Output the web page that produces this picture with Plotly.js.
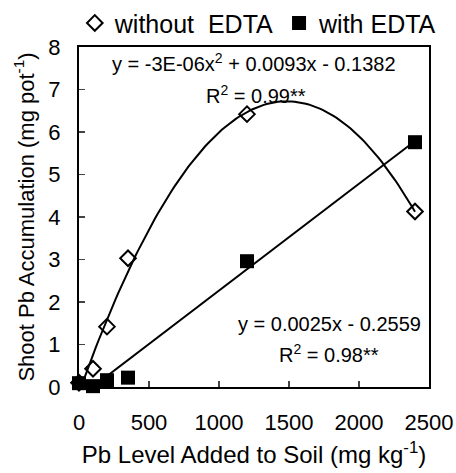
<!DOCTYPE html>
<html><head><meta charset="utf-8">
<script src="https://cdn.plot.ly/plotly-3.0.1.min.js"></script>
<style>body{margin:0;background:#fff}#c{width:456px;height:473px}</style>
</head><body><div id="c"></div>
<script>
const pbLevels = [0, 100, 200, 350, 1200, 2400];
const withoutEDTA = [0.1, 0.43, 1.42, 3.03, 6.42, 4.13];
const withEDTA = [0.09, 0.02, 0.16, 0.22, 2.96, 5.76];
const xTicks = [0, 500, 1000, 1500, 2000, 2500];
const yTicks = [0, 1, 2, 3, 4, 5, 6, 7, 8];

// least squares fits (as Excel trendlines)
function polyfit(xs, ys, deg) {
  const n = deg + 1;
  const A = [], b = [];
  for (let i = 0; i < n; i++) {
    A.push([]);
    for (let j = 0; j < n; j++) A[i].push(xs.reduce((s, x) => s + Math.pow(x, i + j), 0));
    b.push(xs.reduce((s, x, k) => s + Math.pow(x, i) * ys[k], 0));
  }
  for (let i = 0; i < n; i++) {
    let p = i;
    for (let r = i + 1; r < n; r++) if (Math.abs(A[r][i]) > Math.abs(A[p][i])) p = r;
    [A[i], A[p]] = [A[p], A[i]]; [b[i], b[p]] = [b[p], b[i]];
    for (let r = i + 1; r < n; r++) {
      const f = A[r][i] / A[i][i];
      for (let c = i; c < n; c++) A[r][c] -= f * A[i][c];
      b[r] -= f * b[i];
    }
  }
  const c = new Array(n).fill(0);
  for (let i = n - 1; i >= 0; i--) {
    let s = b[i];
    for (let j = i + 1; j < n; j++) s -= A[i][j] * c[j];
    c[i] = s / A[i][i];
  }
  return c;
}
const q = polyfit(pbLevels, withoutEDTA, 2);
const l = polyfit(pbLevels, withEDTA, 1);
const fx = [];
for (let x = 0; x <= 2400; x += 20) fx.push(x);
const fq = fx.map(x => q[0] + q[1] * x + q[2] * x * x);
const fl = fx.map(x => l[0] + l[1] * x);

const traces = [
  {x: fx, y: fq, mode: 'lines', line: {color: '#000', width: 2}, showlegend: false, hoverinfo: 'skip'},
  {x: fx, y: fl, mode: 'lines', line: {color: '#000', width: 2}, showlegend: false, hoverinfo: 'skip'},
  {x: pbLevels, y: withoutEDTA, mode: 'markers', name: 'without\u00a0 EDTA', cliponaxis: false,
   marker: {symbol: 'diamond-open', size: 12, color: '#000', line: {width: 2, color: '#000'}}},
  {x: pbLevels, y: withEDTA, mode: 'markers', name: 'with EDTA', cliponaxis: false,
   marker: {symbol: 'square', size: 14, color: '#000', line: {width: 0}}}
];

const font = {family: 'Liberation Sans, Arial, sans-serif', color: '#000'};
const ann = (x, y, text) => ({xref: 'paper', yref: 'paper', x: x, y: y, xanchor: 'center', yanchor: 'middle',
  text: text, showarrow: false, font: {size: 20}});
const layout = {
  width: 456, height: 473,
  margin: {l: 79, r: 27, t: 47, b: 86, autoexpand: false},
  paper_bgcolor: '#fff', plot_bgcolor: '#fff',
  font: Object.assign({size: 21}, font),
  showlegend: true,
  legend: {orientation: 'h', x: -0.012, xanchor: 'left', y: 1.07, yanchor: 'middle',
           font: {size: 25}, itemwidth: 30, tracegroupgap: 0, bgcolor: 'rgba(0,0,0,0)'},
  xaxis: {range: [0, 2500], tickvals: xTicks, ticks: 'inside', ticklen: 6, tickwidth: 1.5,
          showline: true, linewidth: 2, linecolor: '#000', mirror: true, showgrid: false, zeroline: false,
          tickfont: {size: 22}, ticklabelstandoff: 15, automargin: false,
          title: {text: 'Pb Level Added to Soil (mg kg<sup>-1</sup>)', font: {size: 24}, standoff: 12}},
  yaxis: {range: [0, 8], tickvals: yTicks, ticks: 'inside', ticklen: 6, tickwidth: 1.5,
          showline: true, linewidth: 2, linecolor: '#000', mirror: true, showgrid: false, zeroline: false,
          tickfont: {size: 22}, ticklabelstandoff: 12, automargin: false,
          title: {text: 'Shoot Pb Accumulation (mg pot<sup>-1</sup>)', font: {size: 22}, standoff: 8}},
  annotations: [
    ann(0.499, 0.955, 'y = -3E-06x<sup>2</sup> + 0.0093x - 0.1382'),
    ann(0.506, 0.86, 'R<sup>2</sup> = 0.99**'),
    ann(0.717, 0.185, 'y = 0.0025x - 0.2559'),
    ann(0.714, 0.1, 'R<sup>2</sup> = 0.98**')
  ]
};
Plotly.newPlot('c', traces, layout, {staticPlot: true});
</script></body></html>
